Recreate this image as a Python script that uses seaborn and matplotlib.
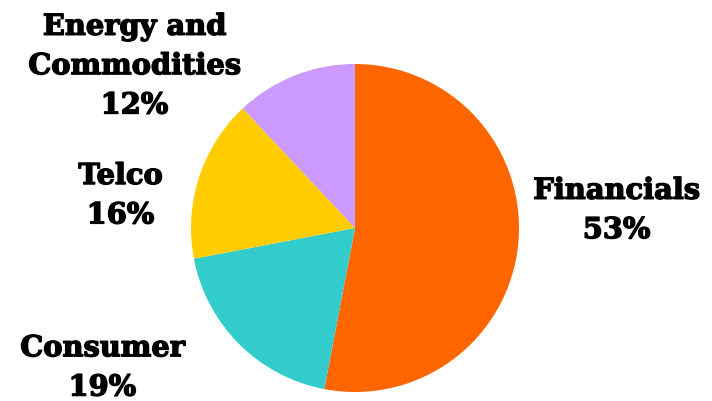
import matplotlib
matplotlib.use("Agg")
import matplotlib.pyplot as plt
import matplotlib.patheffects as pe
import seaborn as sns

# Portfolio split by sector
sectors = ["Financials", "Consumer", "Telco", "Energy and\nCommodities"]
shares = [53, 19, 16, 12]
colors = ["#FF6600", "#33CCCC", "#FFCC00", "#CC99FF"]

# Label anchor points (data units, pie radius = 1)
label_x = [1.595, -1.54, -1.43, -1.345]
label_y = [0.11, -0.85, 0.20, 0.99]

sns.set_theme(style="white")
plt.rcParams["font.family"] = ["DejaVu Serif", "DejaVu Sans"]

W, H, R = 712, 401, 164
cx, cy = 355, 228

fig = plt.figure(figsize=(W / 100, H / 100), dpi=100)
ax = fig.add_axes([0, 0, 1, 1])
ax.pie(shares, colors=colors, startangle=90, counterclock=False,
       radius=1, wedgeprops=dict(linewidth=0))
ax.set_xlim(-cx / R, (W - cx) / R)
ax.set_ylim(-(H - cy) / R, cy / R)
ax.set_aspect("equal")
ax.axis("off")

for name, val, x, y in zip(sectors, shares, label_x, label_y):
    ax.text(x, y, f"{name}\n{val}%", ha="center", va="center",
            fontsize=20.8, fontweight="bold", color="black",
            linespacing=1.45,
            path_effects=[pe.withStroke(linewidth=1.0, foreground="black")])

fig.savefig("out.png", dpi=100, facecolor="white")
